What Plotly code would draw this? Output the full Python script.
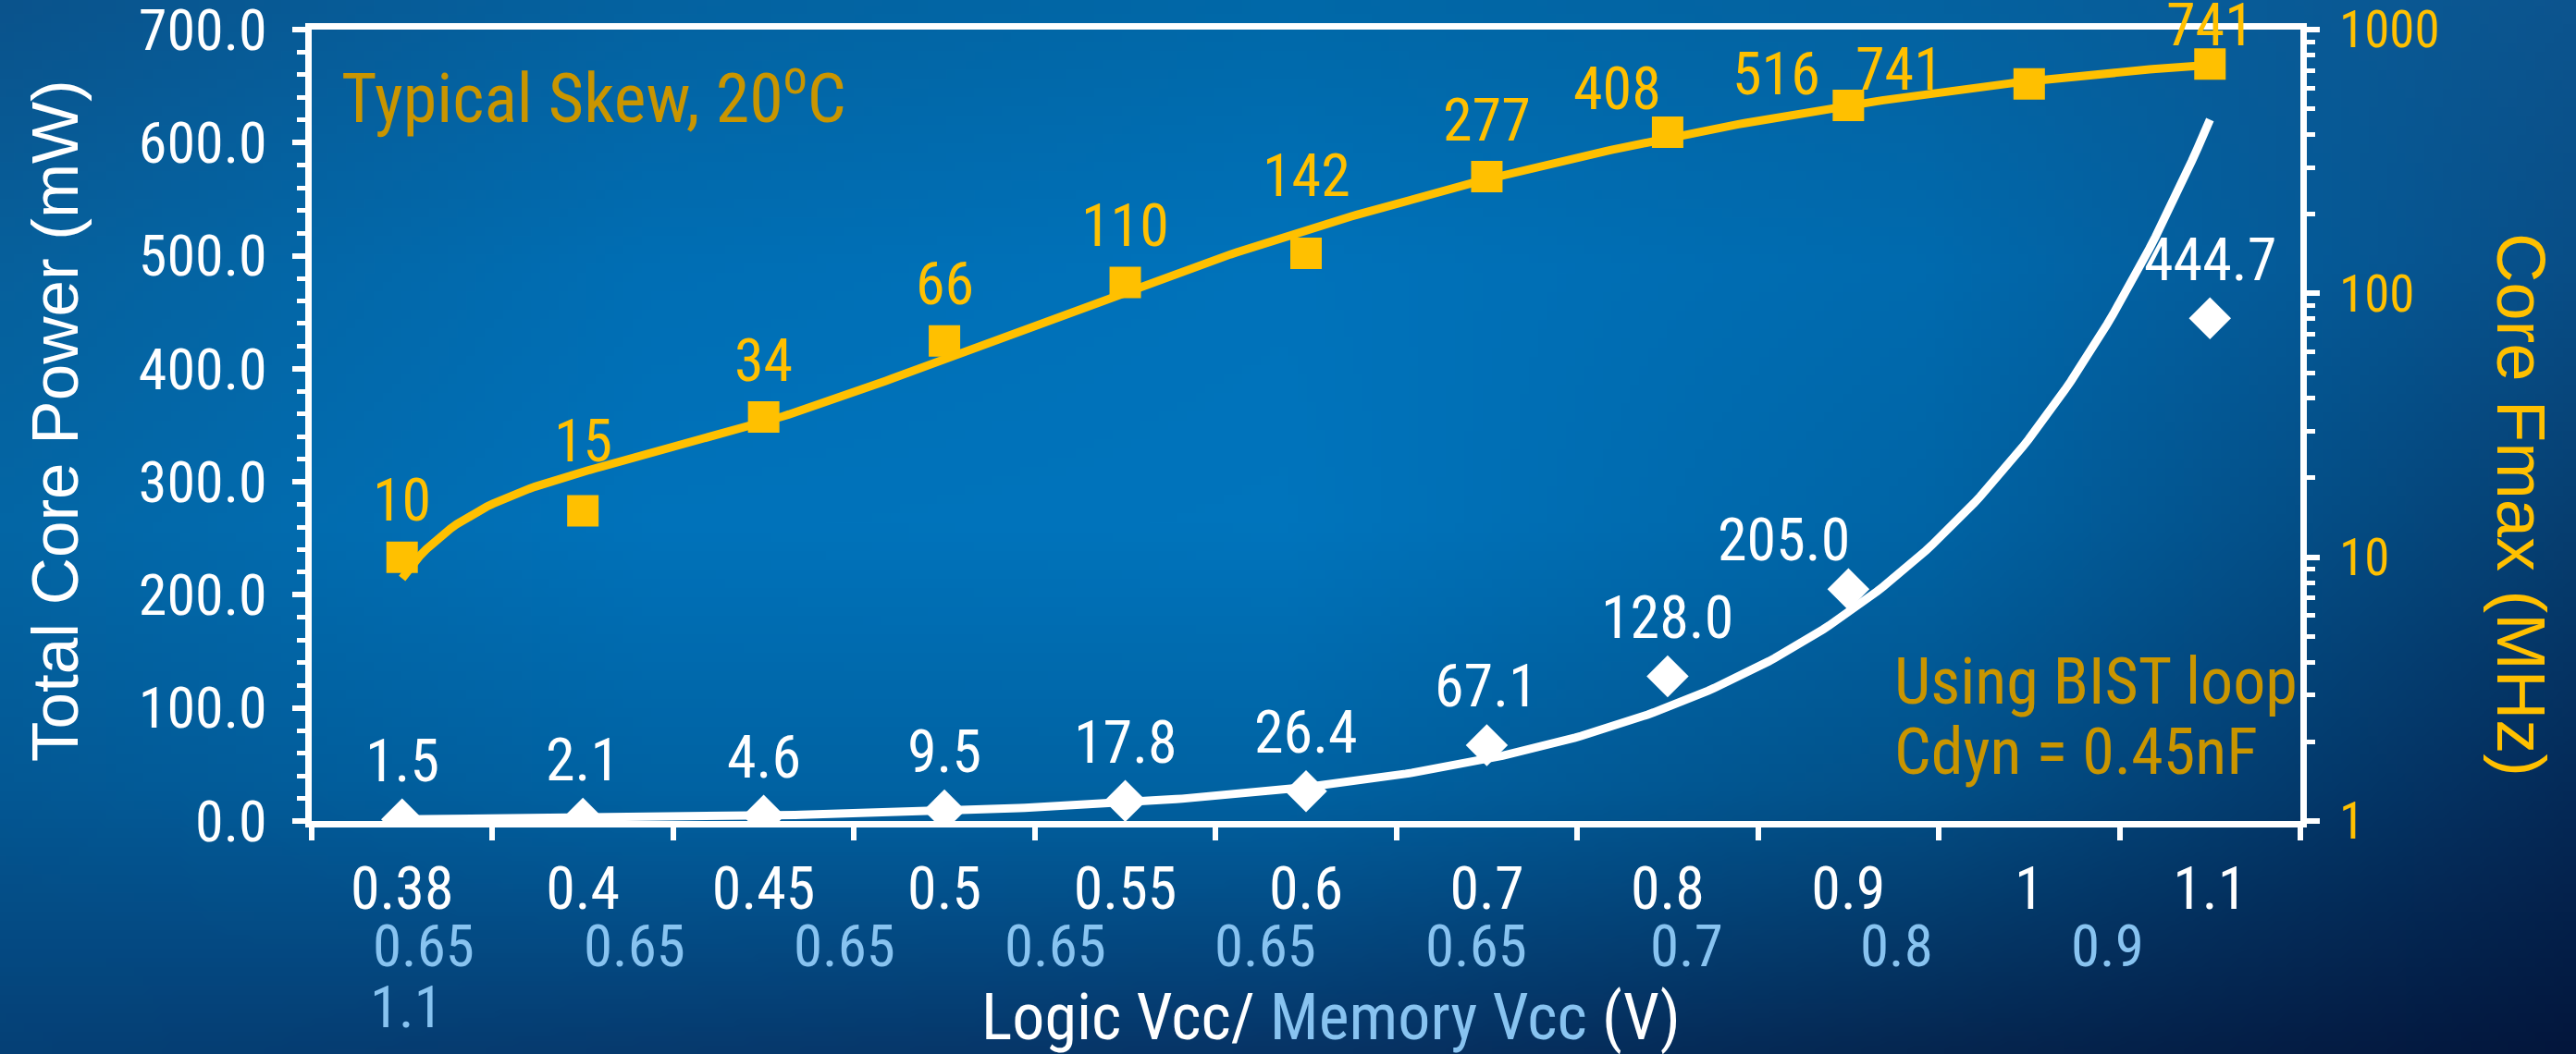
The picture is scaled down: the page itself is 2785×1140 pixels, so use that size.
import base64
import struct
import zlib

import numpy as np
import plotly.graph_objects as go

# ---- data -------------------------------------------------------------
logic_vcc = ["0.38", "0.4", "0.45", "0.5", "0.55", "0.6", "0.7", "0.8", "0.9", "1", "1.1"]
memory_vcc = ["0.65", "0.65", "0.65", "0.65", "0.65", "0.65", "0.7", "0.8", "0.9"]
memory_vcc_wrapped = "1.1"

power_mw = [1.5, 2.1, 4.6, 9.5, 17.8, 26.4, 67.1, 128.0, 205.0, None, 444.7]
fmax_mhz = [10, 15, 34, 66, 110, 142, 277, 408, 516, 622, 741]
fmax_labels = ["10", "15", "34", "66", "110", "142", "277", "408", "516", "", "741"]
fmax_note = "741"

# ---- figure geometry --------------------------------------------------
W, H = 2785, 1140
L, R, T, B = 337, 298, 32, 252
PW, PH = W - L - R, H - T - B

GOLD = "#FFC000"
DARK_GOLD = "#C99500"
LIGHT_BLUE = "#88C3F0"
FONT = "Liberation Sans, Arial, Helvetica, sans-serif"
NARROW = ("Roboto Condensed, Noto Sans Condensed, Liberation Sans Narrow, "
          "Liberation Sans, Arial, sans-serif")


def px(xpix):
    return (xpix - L) / PW


def py(ypix):
    return 1 - (ypix - T) / PH


# ---- background gradient as a small PNG ------------------------------
def png_uri(rgb):
    h, w, _ = rgb.shape
    raw = b"".join(b"\x00" + rgb[r].tobytes() for r in range(h))

    def chunk(tag, data):
        return (struct.pack(">I", len(data)) + tag + data
                + struct.pack(">I", zlib.crc32(tag + data) & 0xFFFFFFFF))

    png = (b"\x89PNG\r\n\x1a\n"
           + chunk(b"IHDR", struct.pack(">IIBBBBB", w, h, 8, 2, 0, 0, 0))
           + chunk(b"IDAT", zlib.compress(raw, 9))
           + chunk(b"IEND", b""))
    return "data:image/png;base64," + base64.b64encode(png).decode()


bg_nodes = np.array([
    [(10, 83, 140), (4, 98, 160), (0, 104, 168), (4, 98, 160), (12, 84, 142)],
    [(6, 96, 156), (0, 110, 180), (0, 114, 186), (0, 106, 174), (8, 78, 135)],
    [(3, 102, 165), (0, 114, 186), (0, 116, 188), (0, 100, 165), (6, 62, 112)],
    [(3, 88, 148), (0, 98, 162), (0, 98, 162), (2, 80, 136), (4, 42, 88)],
    [(5, 64, 118), (6, 58, 110), (6, 52, 102), (5, 38, 80), (3, 22, 60)],
], dtype=float)
gw, gh = 279, 114
node_pos = np.linspace(0, 1, 5)
uu = np.linspace(0, 1, gw)
vv = np.linspace(0, 1, gh)
rows = np.stack([[np.interp(uu, node_pos, bg_nodes[j, :, c]) for c in range(3)]
                 for j in range(5)])          # (5, 3, gw)
grid = np.stack([[np.interp(vv, node_pos, rows[:, c, i]) for i in range(gw)]
                 for c in range(3)])          # (3, gw, gh)
bg = np.clip(np.round(grid.transpose(2, 1, 0)), 0, 255).astype(np.uint8)

# ---- trendlines -------------------------------------------------------
idx = np.arange(1, len(logic_vcc) + 1)
xs = np.linspace(1, len(logic_vcc), 300)

p_idx = np.array([i for i, v in zip(idx, power_mw) if v is not None], dtype=float)
p_val = np.array([v for v in power_mw if v is not None], dtype=float)
slope, icpt = np.polyfit(p_idx, np.log(p_val), 1)
power_trend = np.exp(icpt + slope * xs)

f_coef = np.polyfit(idx, np.array(fmax_mhz, dtype=float), 4)
fmax_trend = np.polyval(f_coef, xs)

# ---- traces -----------------------------------------------------------
fig = go.Figure()
fig.add_trace(go.Scatter(x=xs, y=power_trend, mode="lines", yaxis="y",
                         line=dict(color="white", width=9),
                         hoverinfo="skip", showlegend=False))
fig.add_trace(go.Scatter(x=idx, y=power_mw, mode="markers", yaxis="y",
                         marker=dict(symbol="diamond", size=35, color="white"),
                         showlegend=False))
fig.add_trace(go.Scatter(x=xs, y=fmax_trend, mode="lines", yaxis="y2",
                         line=dict(color=GOLD, width=9),
                         hoverinfo="skip", showlegend=False))
fig.add_trace(go.Scatter(x=idx, y=fmax_mhz, mode="markers", yaxis="y2",
                         marker=dict(symbol="square", size=34, color=GOLD),
                         showlegend=False))


def note(text, x, y, size, color, family=NARROW, **kw):
    d = dict(x=x, y=y, text=text, showarrow=False, xanchor="center",
             yanchor="middle", font=dict(size=size, color=color, family=family))
    d.update(kw)
    return d


# ---- data labels ------------------------------------------------------
ann = []
power_shift = {8: (-70, 53)}
for i, v in enumerate(power_mw):
    if v is None:
        continue
    dx, dy = power_shift.get(i, (0, 63))
    ann.append(note(f"{v:.1f}", idx[i], v, 64, "white",
                    xref="x", yref="y", xshift=dx, yshift=dy))

fmax_shift = {1: (0, 75), 5: (0, 83), 7: (-54, 47), 8: (-78, 33), 10: (0, 42)}
for i, (v, lab) in enumerate(zip(fmax_mhz, fmax_labels)):
    if not lab:
        continue
    dx, dy = fmax_shift.get(i, (0, 61))
    ann.append(note(lab, idx[i], np.log10(v), 64, GOLD,
                    xref="x", yref="y2", xshift=dx, yshift=dy))
ann.append(note(fmax_note, idx[8], np.log10(fmax_mhz[8]), 64, GOLD,
                xref="x", yref="y2", xshift=55, yshift=38))

# ---- memory Vcc row ---------------------------------------------------
for i, lab in enumerate(memory_vcc):
    ann.append(note(lab, px(458 + 227.5 * i), py(1023), 63, LIGHT_BLUE,
                    xref="paper", yref="paper"))
ann.append(note(memory_vcc_wrapped, px(439), py(1089), 63, LIGHT_BLUE,
                xref="paper", yref="paper"))

# ---- titles and notes -------------------------------------------------
ann += [
    note("Total Core Power (mW)", px(59), py(455), 71, "white", family=FONT,
         xref="paper", yref="paper", textangle=-90),
    note("Core Fmax (MHz)", px(2726), py(546), 74, GOLD, family=FONT,
         xref="paper", yref="paper", textangle=90),
    note(f"Logic Vcc/ <span style='color:{LIGHT_BLUE}'>Memory Vcc</span> (V)",
         px(1439), py(1100), 70, "white", xref="paper", yref="paper"),
    note("Typical Skew, 20<sup>o</sup>C", px(367), py(101), 74, DARK_GOLD,
         xref="paper", yref="paper", xanchor="left"),
    note("Using BIST loop", px(2046), py(737), 70, DARK_GOLD,
         xref="paper", yref="paper", xanchor="left"),
    note("Cdyn = 0.45nF", px(2046), py(813), 70, DARK_GOLD,
         xref="paper", yref="paper", xanchor="left"),
]

# ---- layout -----------------------------------------------------------
axis_line = dict(showline=True, linecolor="white", linewidth=7,
                 showgrid=False, zeroline=False, automargin=False)

fig.update_layout(
    template="none",
    width=W, height=H,
    margin=dict(l=L, r=R, t=T, b=B, pad=0, autoexpand=False),
    paper_bgcolor="#05305f",
    plot_bgcolor="rgba(0,0,0,0)",
    font=dict(family=NARROW, color="white"),
    showlegend=False,
    annotations=ann,
    images=[dict(source=png_uri(bg), xref="paper", yref="paper",
                 x=-L / PW, y=1 + T / PH, sizex=W / PW, sizey=H / PH,
                 xanchor="left", yanchor="top", sizing="stretch",
                 layer="below")],
    xaxis=dict(**axis_line, mirror=True, range=[0.5, len(logic_vcc) + 0.5],
               tickmode="array", tickvals=idx, ticktext=logic_vcc,
               ticks="outside", ticklen=0, tickcolor="white",
               ticklabelstandoff=11,
               tickfont=dict(size=64, color="white", family=NARROW),
               minor=dict(tick0=0.5, dtick=1, ticks="outside", ticklen=14,
                          tickwidth=6, tickcolor="white")),
    yaxis=dict(**axis_line, range=[0, 700], tick0=0, dtick=100,
               tickformat=".1f", ticks="outside", ticklen=14, tickwidth=6,
               tickcolor="white", ticklabelstandoff=15,
               ticklabeloverflow="allow",
               tickfont=dict(size=62, color="white", family=NARROW),
               minor=dict(dtick=20, ticks="outside", ticklen=9, tickwidth=5,
                          tickcolor="white")),
    yaxis2=dict(**axis_line, type="log", range=[0, 3], overlaying="y",
                side="right", tickmode="array", tickvals=[1, 10, 100, 1000],
                ticktext=["1", "10", "100", "1000"], ticks="outside",
                ticklen=14, tickwidth=6, tickcolor="white",
                ticklabelstandoff=10, ticklabeloverflow="allow",
                tickfont=dict(size=55, color=GOLD, family=NARROW),
                minor=dict(tickmode="array",
                           tickvals=[m * 10 ** d for d in range(3)
                                     for m in range(2, 10)],
                           ticks="outside", ticklen=9, tickwidth=5,
                           tickcolor="white")),
)

fig.write_html("out.html")
